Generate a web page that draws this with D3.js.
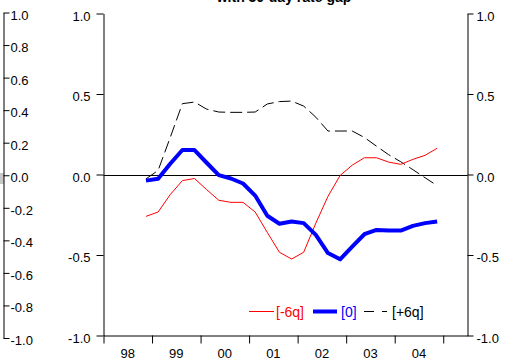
<!DOCTYPE html>
<html>
<head>
<meta charset="utf-8">
<script src="https://cdn.jsdelivr.net/npm/d3@7"></script>
<style>
  html, body { margin: 0; padding: 0; background: #fff; }
  svg { display: block; font-family: "Liberation Sans", Arial, sans-serif; }
</style>
</head>
<body>
<svg id="chart" width="509" height="364"></svg>
<script>
// ---- data ----
const titleText = "with 30-day rate gap";
const quarterLabels = ["98Q4",
  "99Q1","99Q2","99Q3","99Q4",
  "00Q1","00Q2","00Q3","00Q4",
  "01Q1","01Q2","01Q3","01Q4",
  "02Q1","02Q2","02Q3","02Q4",
  "03Q1","03Q2","03Q3","03Q4",
  "04Q1","04Q2","04Q3","04Q4"];
const seriesNames = ["[-6q]", "[0]", "[+6q]"];
const lagMinus6 = [-0.26,
  -0.233, -0.125, -0.038, -0.025,
  -0.094, -0.16, -0.173, -0.173,
  -0.233, -0.36, -0.483, -0.525,
  -0.483, -0.302, -0.136, -0.006,
  0.058, 0.104, 0.104, 0.077,
  0.063, 0.094, 0.119, 0.163];
const lag0 = [-0.038,
  -0.027, 0.067, 0.152, 0.152,
  0.073, -0.004, -0.025, -0.056,
  -0.131, -0.256, -0.306, -0.292,
  -0.302, -0.375, -0.488, -0.527,
  -0.448, -0.371, -0.344, -0.348,
  -0.348, -0.319, -0.302, -0.292];
const lagPlus6 = [-0.027,
  0.025, 0.23, 0.44, 0.45,
  0.406, 0.388, 0.386, 0.386,
  0.388, 0.438, 0.453, 0.456,
  0.425, 0.356, 0.27, 0.27,
  0.27, 0.23, 0.176, 0.123,
  0.079, 0.03, -0.02, -0.069];
const yearTicks = [1998, 1999, 2000, 2001, 2002, 2003, 2004, 2005];
const yearLabels = ["98", "99", "00", "01", "02", "03", "04"];
const mainTicks = [-1.0, -0.5, 0.0, 0.5, 1.0];
const outerTicks = [-1.0, -0.8, -0.6, -0.4, -0.2, 0.0, 0.2, 0.4, 0.6, 0.8, 1.0];

// ---- layout ----
const svg = d3.select("#chart");
const pLeft = 103.5, pRight = 467.5, pTop = 13.5, pBottom = 335.5;
const fmt = d => d.toFixed(1);
const qTime = q => 2000 + (+q.slice(0, 2) >= 90 ? -100 : 0) + (+q.slice(0, 2)) + (+q.slice(3) - 0.5) / 4;

const x = d3.scaleLinear().domain([1998, 2005.5]).range([pLeft, pRight]);
const y = d3.scaleLinear().domain([-1, 1]).range([pBottom, pTop]);
const yOuter = d3.scaleLinear().domain([-1, 1]).range([338, 12.5]);

// title (clipped at the top, as in the reference)
svg.append("text")
  .attr("x", 284).attr("y", 2)
  .attr("text-anchor", "middle")
  .attr("font-size", 14).attr("font-weight", "bold")
  .text(titleText);

// small grey mark at far left
svg.append("rect").attr("x", 0).attr("y", 173).attr("width", 4).attr("height", 11).attr("fill", "#c8c8c8");

function styleAxis(g) {
  g.selectAll("path, line").attr("stroke", "#000").attr("stroke-width", 1);
  g.selectAll("text").attr("fill", "#000").attr("font-size", 13)
    .attr("font-family", "Liberation Sans, Arial, sans-serif").attr("dy", "0.5em");
}

// outer left axis
const gOuter = svg.append("g").attr("transform", "translate(3.5,0)")
  .call(d3.axisRight(yOuter).tickValues(outerTicks).tickFormat(fmt).tickSize(6).tickSizeOuter(0).tickPadding(1));
styleAxis(gOuter);

// main left axis
const gLeft = svg.append("g").attr("transform", `translate(${pLeft},0)`)
  .call(d3.axisLeft(y).tickValues(mainTicks).tickFormat(fmt).tickSize(7).tickSizeOuter(0).tickPadding(6));
styleAxis(gLeft);

// right axis
const gRight = svg.append("g").attr("transform", `translate(${pRight},0)`)
  .call(d3.axisRight(y).tickValues(mainTicks).tickFormat(fmt).tickSize(6).tickSizeOuter(0).tickPadding(3));
styleAxis(gRight);

// bottom axis
const gBottom = svg.append("g").attr("transform", `translate(0,${pBottom})`)
  .call(d3.axisBottom(x).tickValues(yearTicks).tickFormat("").tickSize(8).tickSizeOuter(0));
styleAxis(gBottom);
svg.append("g").selectAll("text").data(yearLabels).join("text")
  .attr("x", (d, i) => x(yearTicks[i] + 0.5))
  .attr("y", 358)
  .attr("text-anchor", "middle")
  .attr("font-size", 13)
  .text(d => d);

// zero line
svg.append("line")
  .attr("x1", pLeft).attr("x2", pRight)
  .attr("y1", Math.round(y(0)) + 0.5).attr("y2", Math.round(y(0)) + 0.5)
  .attr("stroke", "#000").attr("stroke-width", 1);

// series
const line = d3.line().x(d => x(d.t)).y(d => y(d.v));
const toPts = vals => vals.map((v, i) => ({ t: qTime(quarterLabels[i]), v }));

svg.append("path").datum(toPts(lagPlus6)).attr("d", line)
  .attr("fill", "none").attr("stroke", "#000").attr("stroke-width", 1)
  .attr("stroke-dasharray", "12,5");
svg.append("path").datum(toPts(lagMinus6)).attr("d", line)
  .attr("fill", "none").attr("stroke", "#ff0000").attr("stroke-width", 1);
svg.append("path").datum(toPts(lag0)).attr("d", line)
  .attr("fill", "none").attr("stroke", "#0000ff").attr("stroke-width", 4)
  .attr("stroke-linejoin", "round");

// legend
const legY = 311.5;
const lg = svg.append("g");
lg.append("line").attr("x1", 249).attr("x2", 274).attr("y1", legY).attr("y2", legY)
  .attr("stroke", "#ff0000").attr("stroke-width", 1);
lg.append("text").attr("x", 276).attr("y", legY + 5).attr("font-size", 14).attr("fill", "#ff0000").text(seriesNames[0]);
lg.append("line").attr("x1", 313).attr("x2", 337).attr("y1", legY).attr("y2", legY)
  .attr("stroke", "#0000ff").attr("stroke-width", 4);
lg.append("text").attr("x", 341).attr("y", legY + 5).attr("font-size", 14).attr("fill", "#0000ff").text(seriesNames[1]);
lg.append("line").attr("x1", 364).attr("x2", 387).attr("y1", legY).attr("y2", legY)
  .attr("stroke", "#000").attr("stroke-width", 1).attr("stroke-dasharray", "10,8");
lg.append("text").attr("x", 392).attr("y", legY + 5).attr("font-size", 14).attr("fill", "#000").text(seriesNames[2]);
</script>
</body>
</html>
